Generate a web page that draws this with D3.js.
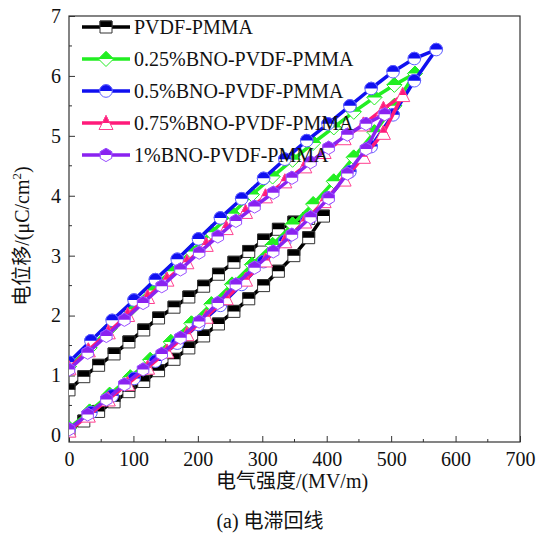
<!DOCTYPE html>
<html><head><meta charset="utf-8">
<script src="https://cdn.jsdelivr.net/npm/d3@7"></script>
<style>body{margin:0;background:#fff}svg{display:block}</style>
</head><body>
<svg id="chart" width="542" height="534"></svg>
<script>
// ---- data ----
const seriesNames = ["PVDF-PMMA","0.25%BNO-PVDF-PMMA","0.5%BNO-PVDF-PMMA","0.75%BNO-PVDF-PMMA","1%BNO-PVDF-PMMA"];
const xTicks = [0,100,200,300,400,500,600,700];
const yTicks = [0,1,2,3,4,5,6,7];

const E_PVDF  = [0,23,46,70,93,116,139,163,186,209,232,256,279,302,325,349,372,395];
const Dlo_PVDF= [0.08,0.24,0.40,0.56,0.73,0.90,1.08,1.27,1.46,1.66,1.86,2.07,2.28,2.50,2.74,3.00,3.30,3.66];
const Dup_PVDF= [0.76,0.98,1.17,1.36,1.56,1.76,1.96,2.14,2.31,2.49,2.69,2.89,3.07,3.26,3.44,3.56,3.62,3.66];

const E_B025  = [0,32,63,95,126,158,190,221,253,284,316,347,379,411,442,474,505,537];
const Dlo_B025= [0.12,0.40,0.68,0.97,1.26,1.56,1.87,2.19,2.52,2.85,3.18,3.52,3.86,4.24,4.64,5.06,5.50,6.04];
const Dup_B025= [1.15,1.46,1.78,2.10,2.42,2.74,3.07,3.39,3.70,4.02,4.32,4.60,4.88,5.14,5.40,5.64,5.85,6.04];

const E_B05   = [0,34,67,101,134,168,201,235,268,302,335,369,402,436,469,503,536,570];
const Dlo_B05 = [0.10,0.38,0.66,0.95,1.24,1.54,1.85,2.17,2.52,2.90,3.24,3.58,3.96,4.40,4.82,5.35,5.92,6.44];
const Dup_B05 = [1.22,1.58,1.92,2.26,2.60,2.94,3.28,3.63,3.95,4.29,4.61,4.92,5.20,5.50,5.79,6.07,6.29,6.44];

const E_B075  = [0,30,61,91,122,152,183,213,244,274,305,335,366,396,427,457,488,518];
const Dlo_B075= [0.08,0.33,0.60,0.86,1.13,1.40,1.69,1.98,2.29,2.60,2.92,3.24,3.57,3.91,4.27,4.65,5.05,5.68];
const Dup_B075= [1.12,1.42,1.72,2.01,2.31,2.60,2.89,3.18,3.46,3.73,3.99,4.24,4.49,4.73,4.96,5.19,5.45,5.68];

const E_B1    = [0,29,58,86,115,144,173,202,231,259,288,317,346,375,403,432,461,490];
const Dlo_B1  = [0.10,0.35,0.60,0.85,1.10,1.36,1.63,1.90,2.21,2.52,2.80,3.07,3.35,3.64,3.96,4.37,4.78,5.36];
const Dup_B1  = [1.10,1.38,1.66,1.93,2.21,2.49,2.77,3.05,3.32,3.58,3.82,4.05,4.30,4.56,4.80,5.02,5.20,5.36];

const colors = ["#000000","#22ee22","#1010f0","#ff1a7a","#8a22f0"];
const strokeCols = ["#333333","#22ee22","#6060ff","#ff4090","#9a50ff"];
const shapes = ["square","diamond","circle","triangle","hexagon"];

const loops = [
  {E:E_PVDF, lo:Dlo_PVDF, up:Dup_PVDF},
  {E:E_B025, lo:Dlo_B025, up:Dup_B025},
  {E:E_B05,  lo:Dlo_B05,  up:Dup_B05},
  {E:E_B075, lo:Dlo_B075, up:Dup_B075},
  {E:E_B1,   lo:Dlo_B1,   up:Dup_B1}
];

// ---- layout ----
const svg = d3.select("#chart");
const L = 69, R = 520, T = 16, B = 442;
const x = d3.scaleLinear().domain([0,700]).range([L,R]);
const y = d3.scaleLinear().domain([-0.11,7]).range([B,T]);
const serif = "'Liberation Serif','Times New Roman',serif";
const cjk = "'Liberation Serif','Noto Sans CJK SC',serif";

svg.append("defs").append("clipPath").attr("id","tophalf")
  .append("rect").attr("x",-20).attr("y",-20).attr("width",40).attr("height",20);
svg.select("defs").append("clipPath").attr("id","plotclip")
  .append("rect").attr("x",L).attr("y",T).attr("width",R-L).attr("height",B-T);

function shapePath(s){
  const r = 6;
  switch(s){
    case "square": return `M${-r},${-r}H${r}V${r}H${-r}Z`;
    case "diamond": { const a=7.5; return `M0,${-a}L${a},0L0,${a}L${-a},0Z`; }
    case "circle": { const p=d3.path(); p.arc(0,0,6.3,0,2*Math.PI); p.closePath(); return p.toString(); }
    case "triangle": { const h=7; return `M0,${-h-0.5}L${h},${h-0.5}L${-h},${h-0.5}Z`; }
    case "hexagon": { const a=6.6; let d=""; for(let i=0;i<6;i++){const ang=Math.PI/3*i - Math.PI/2; d+=(i?"L":"M")+(a*Math.cos(ang)).toFixed(2)+","+(a*Math.sin(ang)).toFixed(2);} return d+"Z"; }
  }
}

function drawMarker(g, s, col, scol){
  const p = shapePath(s);
  g.append("path").attr("d",p).attr("fill","#fff").attr("stroke",scol).attr("stroke-width",1);
  g.append("path").attr("d",p).attr("fill",col).attr("stroke",scol).attr("stroke-width",1).attr("clip-path","url(#tophalf)");
}

// ---- axes ----
const xAxis = d3.axisBottom(x).tickValues(xTicks).tickSize(-6).tickPadding(10).tickFormat(d3.format("d"));
const gx = svg.append("g").attr("transform",`translate(0,${B})`).call(xAxis);
gx.select(".domain").remove();
gx.selectAll(".tick line").attr("stroke","#333");
gx.selectAll("text").attr("font-family",serif).attr("font-size",20).attr("fill","#111");
const xMinor = d3.range(50,700,100);
svg.append("g").selectAll("line").data(xMinor).join("line")
  .attr("x1",d=>x(d)).attr("x2",d=>x(d)).attr("y1",B).attr("y2",B-3).attr("stroke","#333");

const yAxis = d3.axisLeft(y).tickValues(yTicks).tickSize(-6).tickPadding(8).tickFormat(d3.format("d"));
const gy = svg.append("g").attr("transform",`translate(${L},0)`).call(yAxis);
gy.select(".domain").remove();
gy.selectAll(".tick line").attr("stroke","#333");
gy.selectAll("text").attr("font-family",serif).attr("font-size",20).attr("fill","#111");
const yMinor = d3.range(0.5,7,1);
svg.append("g").selectAll("line").data(yMinor).join("line")
  .attr("x1",L).attr("x2",L+3).attr("y1",d=>y(d)).attr("y2",d=>y(d)).attr("stroke","#333");

svg.append("rect").attr("x",L).attr("y",T).attr("width",R-L).attr("height",B-T)
  .attr("fill","none").attr("stroke","#333").attr("stroke-width",1.2);

// ---- series ----
const plot = svg.append("g").attr("clip-path","url(#plotclip)");
const line = d3.line().x(d=>x(d[0])).y(d=>y(d[1]));
loops.forEach((ld,i)=>{
  const pts = ld.E.map((e,k)=>[e,ld.lo[k]]).concat(ld.E.map((e,k)=>[e,ld.up[k]]).reverse().slice(1));
  const g = plot.append("g");
  g.append("path").attr("d",line(pts)).attr("fill","none").attr("stroke",colors[i]).attr("stroke-width",3.5).attr("stroke-linejoin","round");
  pts.forEach(p=>{
    const m = g.append("g").attr("transform",`translate(${x(p[0])},${y(p[1])})`);
    drawMarker(m, shapes[i], colors[i], strokeCols[i]);
  });
});

// ---- legend ----
const lg = svg.append("g");
seriesNames.forEach((n,i)=>{
  const yy = 27 + i*32;
  lg.append("line").attr("x1",82).attr("x2",130).attr("y1",yy).attr("y2",yy).attr("stroke",colors[i]).attr("stroke-width",3.5);
  const m = lg.append("g").attr("transform",`translate(106,${yy})`);
  drawMarker(m, shapes[i], colors[i], strokeCols[i]);
  lg.append("text").attr("x",134).attr("y",yy).attr("dy","0.35em").attr("font-family",serif).attr("font-size",20).attr("fill","#111").text(n);
});

// ---- titles ----
svg.append("text").attr("x",292).attr("y",488).attr("text-anchor","middle").attr("font-family",cjk).attr("font-size",20).attr("fill","#111").text("电气强度/(MV/m)");
svg.append("text").attr("x",270).attr("y",528).attr("text-anchor","middle").attr("font-family",cjk).attr("font-size",20).attr("fill","#111").text("(a) 电滞回线");
const yt = svg.append("text").attr("transform","translate(29,236) rotate(-90)").attr("text-anchor","middle").attr("font-family",cjk).attr("font-size",20).attr("fill","#111");
yt.append("tspan").text("电位移/(μC/cm");
yt.append("tspan").attr("font-size",13).attr("dy",-8).text("2");
yt.append("tspan").attr("dy",8).text(")");
</script>
</body></html>
